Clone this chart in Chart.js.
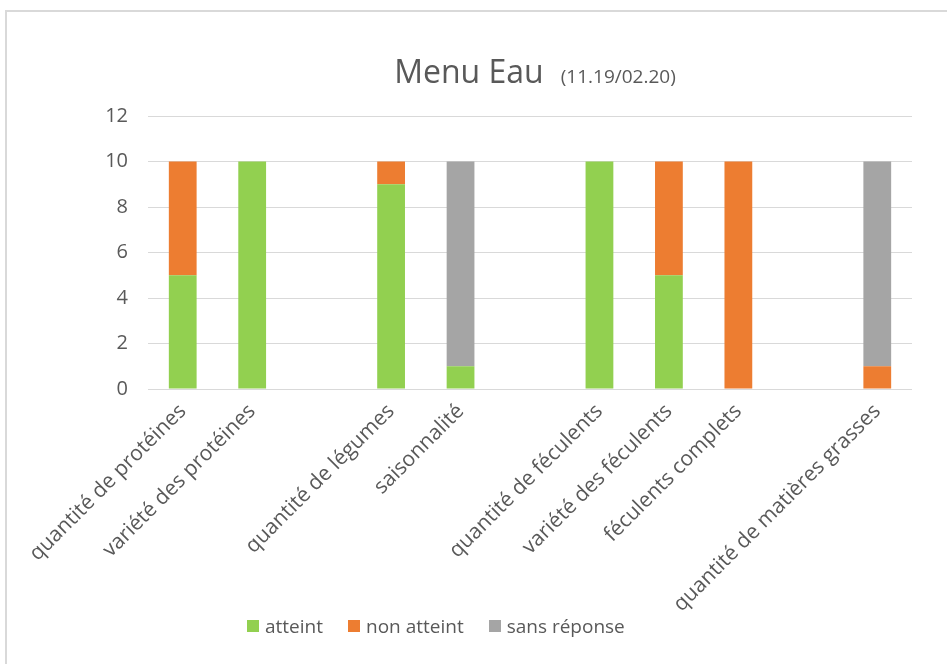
<!DOCTYPE html>
<html>
<head>
<meta charset="utf-8">
<script src="https://cdn.jsdelivr.net/npm/chart.js@4"></script>
<style>
    html, body { margin: 0; padding: 0; background: #fff; overflow: hidden; }
    .wrap { position: relative; width: 947px; height: 664px; }
    .frame { position: absolute; left: 5px; top: 10px; width: 1000px; height: 700px; border: 2px solid #d9d9d9; box-sizing: border-box; }
    canvas { position: absolute; left: 0; top: 0; }
    .legend { position: absolute; left: 247px; top: 614px; height: 24px; display: flex; align-items: center; gap: 25px;
        font-family: "Open Sans", sans-serif; font-size: 19px; color: #595959; }
    .legend span.item { display: flex; align-items: center; }
    .legend i { display: inline-block; width: 12px; height: 12px; margin-right: 6px; }
</style>
</head>
<body>
<div class="wrap">
    <div class="frame"></div>
    <canvas id="menuChart" width="947" height="664"></canvas>
    <div class="legend" id="legend"></div>
</div>
<script>
const titleMain = 'Menu Eau';
const titleSub = '(11.19/02.20)';

// blank labels are the gaps between the food groups
const categories = [
    'quantité de protéines', 'variété des protéines', '',
    'quantité de légumes', 'saisonnalité', '',
    'quantité de féculents', 'variété des féculents', 'féculents complets', '',
    'quantité de matières grasses',
];
const atteint = [5, 10, null, 9, 1, null, 10, 5, 0, null, 0];
const nonAtteint = [5, 0, null, 1, 0, null, 0, 5, 10, null, 1];
const sansReponse = [0, 0, null, 0, 9, null, 0, 0, 0, null, 9];
const yTicks = [0, 2, 4, 6, 8, 10, 12];

const seriesNames = ['atteint', 'non atteint', 'sans réponse'];
const seriesColors = ['#92d050', '#ed7d31', '#a5a5a5'];

const textColor = '#595959';
const font = '"Open Sans", sans-serif';

const titlePlugin = {
    id: 'splitTitle',
    afterDraw(chart) {
        const { ctx } = chart;
        ctx.save();
        ctx.fillStyle = textColor;
        ctx.textBaseline = 'alphabetic';
        ctx.font = `32px ${font}`;
        const w1 = ctx.measureText(titleMain).width;
        ctx.font = `19px ${font}`;
        const w2 = ctx.measureText(titleSub).width;
        const gap = 17;
        const start = 535 - (w1 + gap + w2) / 2;
        ctx.font = `32px ${font}`;
        ctx.fillText(titleMain, start, 83);
        ctx.font = `19px ${font}`;
        ctx.fillText(titleSub, start + w1 + gap, 83);
        ctx.restore();
    },
};

function buildLegend() {
    const legend = document.getElementById('legend');
    seriesNames.forEach((name, i) => {
        const item = document.createElement('span');
        item.className = 'item';
        const box = document.createElement('i');
        box.style.background = seriesColors[i];
        item.appendChild(box);
        item.appendChild(document.createTextNode(name));
        legend.appendChild(item);
    });
}

function initChart() {
    const values = [atteint, nonAtteint, sansReponse];
    new Chart(document.getElementById('menuChart'), {
        type: 'bar',
        data: {
            labels: categories,
            datasets: values.map((data, i) => ({
                label: seriesNames[i],
                data,
                backgroundColor: seriesColors[i],
                borderWidth: 0,
                barPercentage: 1,
                categoryPercentage: 0.4,
            })),
        },
        options: {
            responsive: false,
            animation: false,
            layout: { padding: { top: 116, right: 35, bottom: 0, left: 0 } },
            plugins: { legend: { display: false }, title: { display: false }, tooltip: { enabled: false } },
            scales: {
                x: {
                    stacked: true,
                    grid: { display: false },
                    border: { display: false },
                    ticks: { color: textColor, font: { family: font, size: 21 }, autoSkip: false, maxRotation: 45, minRotation: 45, padding: 2 },
                    afterFit: (scale) => { scale.height = 275; },
                },
                y: {
                    stacked: true,
                    min: 0,
                    max: 12,
                    grid: { color: '#d9d9d9', lineWidth: 1, drawTicks: false },
                    border: { display: false },
                    afterBuildTicks: (scale) => { scale.ticks = yTicks.map((value) => ({ value })); },
                    ticks: { color: textColor, font: { family: font, size: 20 }, padding: 20 },
                    afterFit: (scale) => { scale.width = 148; },
                },
            },
        },
        plugins: [titlePlugin],
    });
}

document.addEventListener('DOMContentLoaded', () => {
    buildLegend();
    initChart();
});
</script>
</body>
</html>
